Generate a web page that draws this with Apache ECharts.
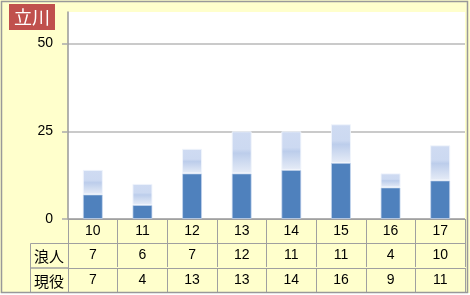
<!DOCTYPE html>
<html>
<head>
<meta charset="utf-8">
<script src="https://cdn.jsdelivr.net/npm/echarts@6/dist/echarts.min.js"></script>
<style>html,body{margin:0;padding:0;background:#fff;}#c{width:470px;height:295px;}</style>
</head>
<body>
<div id="c"></div>
<script>
const titleText = '立川';
const categories = ['10', '11', '12', '13', '14', '15', '16', '17'];
const ronin = [7, 6, 7, 12, 11, 11, 4, 10];
const genneki = [7, 4, 13, 13, 14, 16, 9, 11];
const rowNames = ['浪人', '現役'];
const yTicks = [0, 25, 50];

const FONT = '"Liberation Sans", "Noto Sans CJK JP", sans-serif';
const LINE = '#a0a0a0';
const chart = echarts.init(document.getElementById('c'), null, {renderer: 'canvas'});

function tableAxis(data, offset, showLabel, showTick) {
  return {
    type: 'category', gridIndex: 0, position: 'bottom', offset: offset,
    data: data,
    axisLine: {show: true, lineStyle: {color: LINE, width: 1}},
    axisTick: {show: showTick, length: 24, interval: 0, lineStyle: {color: LINE, width: 1}},
    axisLabel: {show: showLabel, interval: 0, margin: 5, color: '#000', fontSize: 14, fontFamily: FONT},
    splitLine: {show: false}
  };
}

chart.setOption({
  backgroundColor: '#ffffcc',
  animation: false,
  title: {
    text: titleText, left: 9, top: 4,
    backgroundColor: '#c0504d', padding: [4, 5],
    textStyle: {color: '#fff', fontSize: 18, fontWeight: 'normal', fontFamily: '"Noto Sans CJK JP", sans-serif'}
  },
  grid: {left: 68, right: 5, top: 12, bottom: 76, show: true, backgroundColor: '#fff', borderWidth: 0},
  xAxis: [
    tableAxis(categories, 0, true, true),
    tableAxis(ronin.map(String), 24, true, true),
    tableAxis(genneki.map(String), 49, true, true),
    tableAxis(categories.map(() => ''), 73, false, false)
  ],
  yAxis: {
    type: 'value', min: 0, max: 59, interval: 25,
    axisLine: {show: true, lineStyle: {color: '#999', width: 1.5}},
    axisTick: {show: true, length: 6, customValues: yTicks, lineStyle: {color: '#aaa', width: 1.5}},
    axisLabel: {margin: 15, customValues: yTicks, color: '#000', fontSize: 14, fontFamily: FONT},
    splitLine: {show: true, lineStyle: {color: ['#999', '#b8b8b8', '#b8b8b8', 'rgba(0,0,0,0)'], width: 1.5}}
  },
  series: [
    {
      name: rowNames[1], type: 'bar', stack: 'a', barWidth: 20, data: genneki,
      itemStyle: {color: '#4f81bd', borderColor: 'rgba(200,215,240,0.7)', borderWidth: 1}
    },
    {
      name: rowNames[0], type: 'bar', stack: 'a', barWidth: 20, data: ronin,
      itemStyle: {
        color: new echarts.graphic.LinearGradient(0, 0, 0, 1, [
          {offset: 0, color: '#cfdbf2'},
          {offset: 0.42, color: '#ccd9f1'},
          {offset: 0.52, color: '#bccdeb'},
          {offset: 1, color: '#e6ecf7'}
        ]),
        borderColor: 'rgba(240,244,252,0.9)', borderWidth: 1
      }
    }
  ],
  graphic: [
    {type: 'rect', shape: {x: 0, y: 293, width: 470, height: 2}, style: {fill: '#fff'}, z: 99},
    {type: 'rect', shape: {x: 1.5, y: 1.5, width: 466, height: 291}, style: {fill: 'none', stroke: '#999', lineWidth: 1.5}, z: 100},
    {type: 'rect', shape: {x: 30.5, y: 243.5, width: 38, height: 24.5}, style: {fill: 'none', stroke: LINE, lineWidth: 1}, z: 50},
    {type: 'rect', shape: {x: 30.5, y: 268, width: 38, height: 24.5}, style: {fill: 'none', stroke: LINE, lineWidth: 1}, z: 50},
    {type: 'text', x: 49, y: 256, style: {text: rowNames[0], fill: '#000', font: '15px "Noto Sans CJK JP", sans-serif', align: 'center', verticalAlign: 'middle'}, z: 50},
    {type: 'text', x: 49, y: 281, style: {text: rowNames[1], fill: '#000', font: '15px "Noto Sans CJK JP", sans-serif', align: 'center', verticalAlign: 'middle'}, z: 50}
  ]
});
</script>
</body>
</html>
